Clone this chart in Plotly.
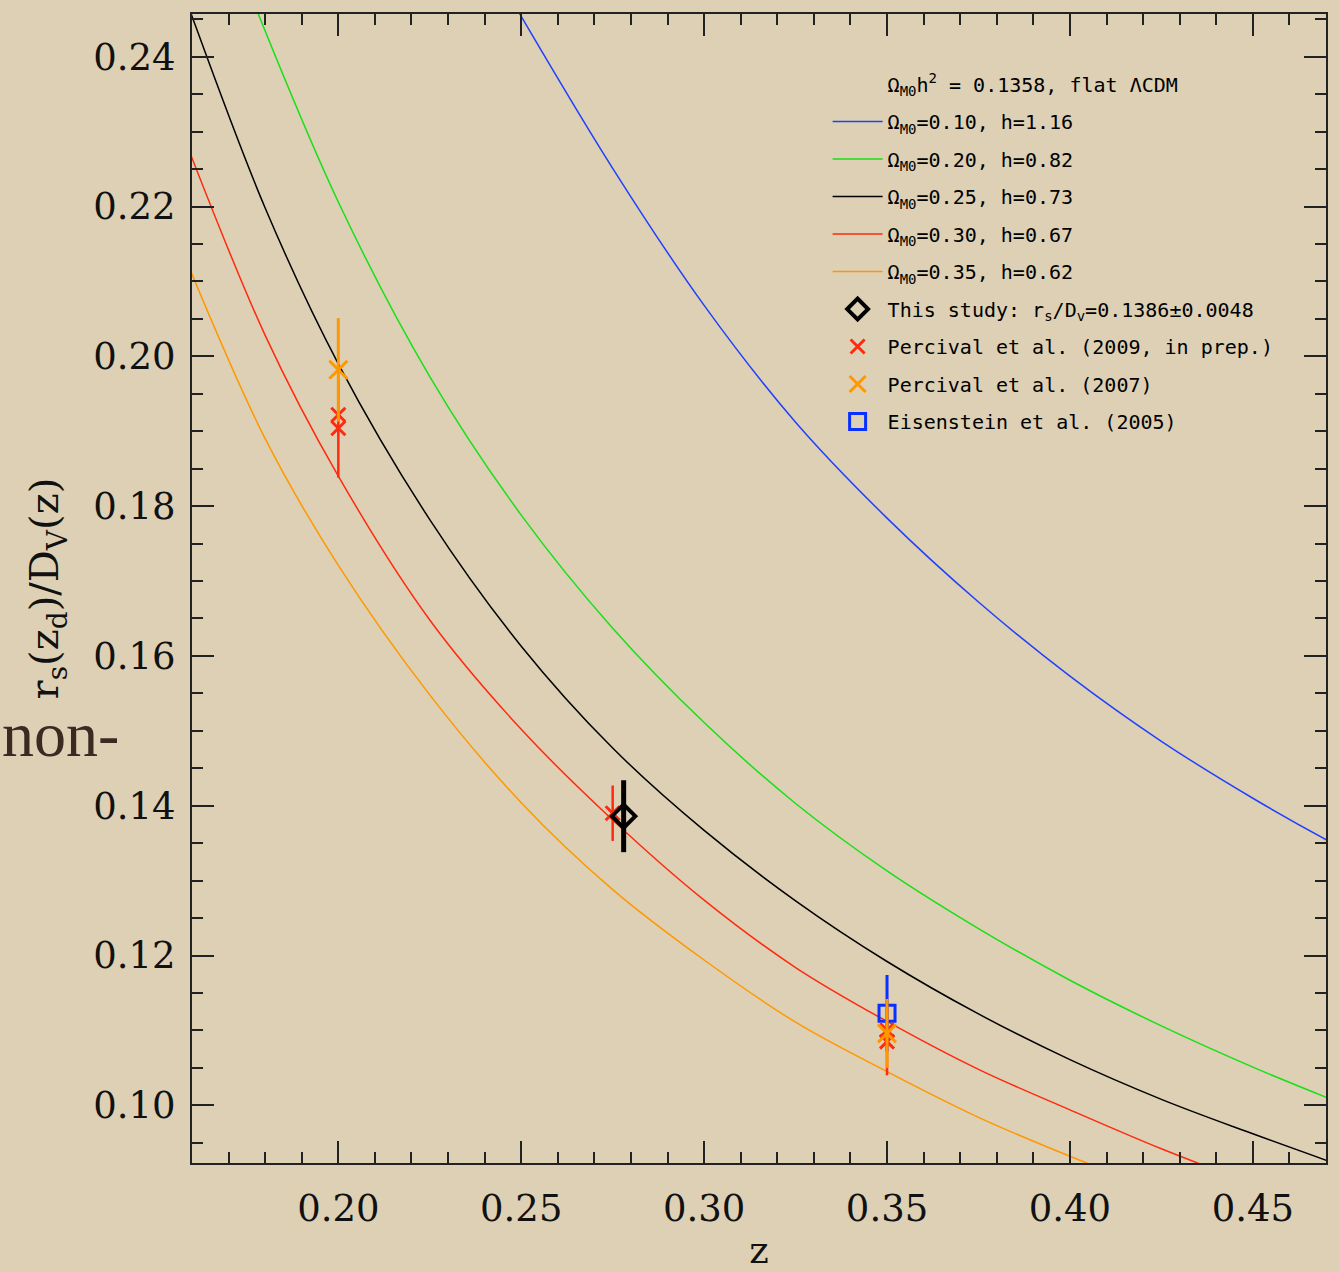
import plotly.graph_objects as go

# ---------------- model curves ----------------
z_om010 = [0.2495, 0.275, 0.300, 0.325, 0.350, 0.375, 0.400, 0.425, 0.450, 0.4707, 0.480]
v_om010 = [0.2458, 0.2251, 0.2068, 0.1912, 0.1784, 0.1672, 0.1573, 0.1486, 0.1410, 0.1353, 0.1330]

z_om020 = [0.175, 0.200, 0.225, 0.250, 0.275, 0.300, 0.325, 0.350, 0.375, 0.400, 0.425, 0.450, 0.475]
v_om020 = [0.2495, 0.2206, 0.1973, 0.1788, 0.1637, 0.1511, 0.1403, 0.1313, 0.1236, 0.1167, 0.1106, 0.1051, 0.1001]

z_om025 = [0.158, 0.160, 0.180, 0.200, 0.225, 0.250, 0.275, 0.300, 0.325, 0.350, 0.375, 0.400, 0.425, 0.450, 0.475]
v_om025 = [0.2482, 0.2454, 0.2198, 0.1990, 0.1782, 0.1613, 0.1477, 0.1367, 0.1273, 0.1192, 0.1122, 0.1061, 0.1008, 0.0962, 0.0918]

z_om030 = [0.158, 0.180, 0.200, 0.225, 0.250, 0.275, 0.300, 0.325, 0.350, 0.375, 0.400, 0.425, 0.450]
v_om030 = [0.2290, 0.2028, 0.1840, 0.1648, 0.1502, 0.1381, 0.1274, 0.1184, 0.1112, 0.1048, 0.0994, 0.0942, 0.0895]

z_om035 = [0.158, 0.180, 0.200, 0.225, 0.250, 0.275, 0.300, 0.325, 0.350, 0.375, 0.400, 0.425]
v_om035 = [0.2133, 0.1890, 0.1721, 0.1548, 0.1404, 0.1288, 0.1194, 0.1111, 0.1045, 0.0984, 0.0932, 0.0885]

curve_names = [
    "Ω<sub>M0</sub>=0.10, h=1.16",
    "Ω<sub>M0</sub>=0.20, h=0.82",
    "Ω<sub>M0</sub>=0.25, h=0.73",
    "Ω<sub>M0</sub>=0.30, h=0.67",
    "Ω<sub>M0</sub>=0.35, h=0.62",
]
header_text = "Ω<sub>M0</sub>h<sup>2</sup> = 0.1358, flat ΛCDM"

# ---------------- measurements ----------------
z_this = [0.278]
v_this = [0.1386]
e_this = [0.0048]

z_p09 = [0.200, 0.275, 0.350]
v_p09 = [0.1904, 0.1390, 0.1085]
e_p09 = [0.0066, 0.0037, 0.0045]
z_p09b = [0.200, 0.350]
v_p09b = [0.1922, 0.1100]

z_p07 = [0.200, 0.350]
v_p07 = [0.1982, 0.1096]
e_p07 = [0.0069, 0.0046]

z_e05 = [0.350]
v_e05 = [0.1123]
e_e05 = [0.0051]

x_ticks = [0.20, 0.25, 0.30, 0.35, 0.40, 0.45]
x_ticklabels = ["0.20", "0.25", "0.30", "0.35", "0.40", "0.45"]
x_minor = [0.17, 0.18, 0.19, 0.21, 0.22, 0.23, 0.24, 0.26, 0.27, 0.28, 0.29,
           0.31, 0.32, 0.33, 0.34, 0.36, 0.37, 0.38, 0.39, 0.41, 0.42, 0.43, 0.44, 0.46]
y_ticks = [0.10, 0.12, 0.14, 0.16, 0.18, 0.20, 0.22, 0.24]
y_ticklabels = ["0.10", "0.12", "0.14", "0.16", "0.18", "0.20", "0.22", "0.24"]
y_minor = [0.095, 0.105, 0.110, 0.115, 0.125, 0.130, 0.135, 0.145, 0.150, 0.155,
           0.165, 0.170, 0.175, 0.185, 0.190, 0.195, 0.205, 0.210, 0.215, 0.225,
           0.230, 0.235, 0.245]

BG = "#DDD0B4"
C_BLUE = "#2040FF"
C_GREEN = "#18E018"
C_BLACK = "#000000"
C_RED = "#FF2A10"
C_ORANGE = "#FF9800"
C_SQ = "#0A30FF"

fig = go.Figure()

# legend header (no symbol)
fig.add_trace(go.Scatter(x=[None], y=[None], mode="lines",
                         line=dict(color="rgba(0,0,0,0)", width=1),
                         name=header_text, legendgroup="g0", legendrank=1,
                         hoverinfo="skip"))

curves = [(z_om010, v_om010, C_BLUE), (z_om020, v_om020, C_GREEN),
          (z_om025, v_om025, C_BLACK), (z_om030, v_om030, C_RED),
          (z_om035, v_om035, C_ORANGE)]
for i, (zz, vv, col) in enumerate(curves):
    fig.add_trace(go.Scatter(x=zz, y=vv, mode="lines",
                             line=dict(color=col, width=1.5, shape="spline"),
                             name=curve_names[i], legendgroup=f"g{i+1}",
                             legendrank=2 + i))

# Eisenstein 2005
fig.add_trace(go.Scatter(x=z_e05, y=v_e05, mode="markers",
                         marker=dict(symbol="square-open", size=16, color=C_SQ,
                                     line=dict(color=C_SQ, width=3)),
                         error_y=dict(type="data", array=e_e05, color=C_SQ,
                                      thickness=3, width=0),
                         name="Eisenstein et al. (2005)", legendgroup="g9",
                         legendrank=10))
# Percival 2009
fig.add_trace(go.Scatter(x=z_p09, y=v_p09, mode="markers",
                         marker=dict(symbol="x-thin", size=14, color=C_RED,
                                     line=dict(color=C_RED, width=3)),
                         error_y=dict(type="data", array=e_p09, color=C_RED,
                                      thickness=2.5, width=0),
                         name="Percival et al. (2009, in prep.)", legendgroup="g7",
                         legendrank=8))
fig.add_trace(go.Scatter(x=z_p09b, y=v_p09b, mode="markers",
                         marker=dict(symbol="x-thin", size=14, color=C_RED,
                                     line=dict(color=C_RED, width=3)),
                         showlegend=False, legendgroup="g7"))
# Percival 2007
fig.add_trace(go.Scatter(x=z_p07, y=v_p07, mode="markers",
                         marker=dict(symbol="x-thin", size=18, color=C_ORANGE,
                                     line=dict(color=C_ORANGE, width=3)),
                         error_y=dict(type="data", array=e_p07, color=C_ORANGE,
                                      thickness=3, width=0),
                         name="Percival et al. (2007)", legendgroup="g8",
                         legendrank=9))
# This study
fig.add_trace(go.Scatter(x=z_this, y=v_this, mode="markers",
                         marker=dict(symbol="diamond-open", size=18, color=C_BLACK,
                                     line=dict(color=C_BLACK, width=4)),
                         error_y=dict(type="data", array=e_this, color=C_BLACK,
                                      thickness=5, width=0),
                         name="This study: r<sub>s</sub>/D<sub>v</sub>=0.1386±0.0048",
                         legendgroup="g6", legendrank=7))

axis_common = dict(showline=True, linecolor="#222222", linewidth=2, mirror="ticks",
                   ticks="inside", ticklen=22, tickwidth=1.5, tickcolor="#222222",
                   showgrid=False, zeroline=False, automargin=False,
                   tickfont=dict(family="DejaVu Serif", size=37, color="#111111"))

fig.update_layout(
    width=1339, height=1272,
    margin=dict(l=192, r=13, t=14, b=109),
    paper_bgcolor=BG, plot_bgcolor=BG,
    showlegend=True,
    legend=dict(x=0.5605, y=0.956, xanchor="left", yanchor="top",
                bgcolor="rgba(0,0,0,0)", borderwidth=0,
                font=dict(family="DejaVu Sans Mono", size=20, color="#000000"),
                tracegroupgap=8.5, itemwidth=50),
    xaxis=dict(range=[0.16, 0.47], tickmode="array", tickvals=x_ticks,
               ticktext=x_ticklabels, ticklabelstandoff=12,
               minor=dict(tickmode="array", tickvals=x_minor, ticks="inside",
                          ticklen=11, tickwidth=1.5, tickcolor="#222222"),
               title=dict(text="z", font=dict(family="DejaVu Serif", size=37,
                                              color="#111111"), standoff=21),
               **axis_common),
    yaxis=dict(range=[0.0923, 0.2457], tickmode="array", tickvals=y_ticks,
               ticktext=y_ticklabels, ticklabelstandoff=7,
               minor=dict(tickmode="array", tickvals=y_minor, ticks="inside",
                          ticklen=11, tickwidth=1.5, tickcolor="#222222"),
               title=dict(text="r<sub>s</sub>(z<sub>d</sub>)/D<sub>V</sub>(z)",
                          font=dict(family="DejaVu Serif", size=40, color="#111111"),
                          standoff=22),
               **axis_common),
    annotations=[dict(text="non-", xref="paper", yref="paper",
                      x=-192 / 1134, y=0.373, xanchor="left", yanchor="middle",
                      showarrow=False,
                      font=dict(family="Liberation Serif", size=64, color="#3B2A22"))],
)

fig.write_html("out.html")
